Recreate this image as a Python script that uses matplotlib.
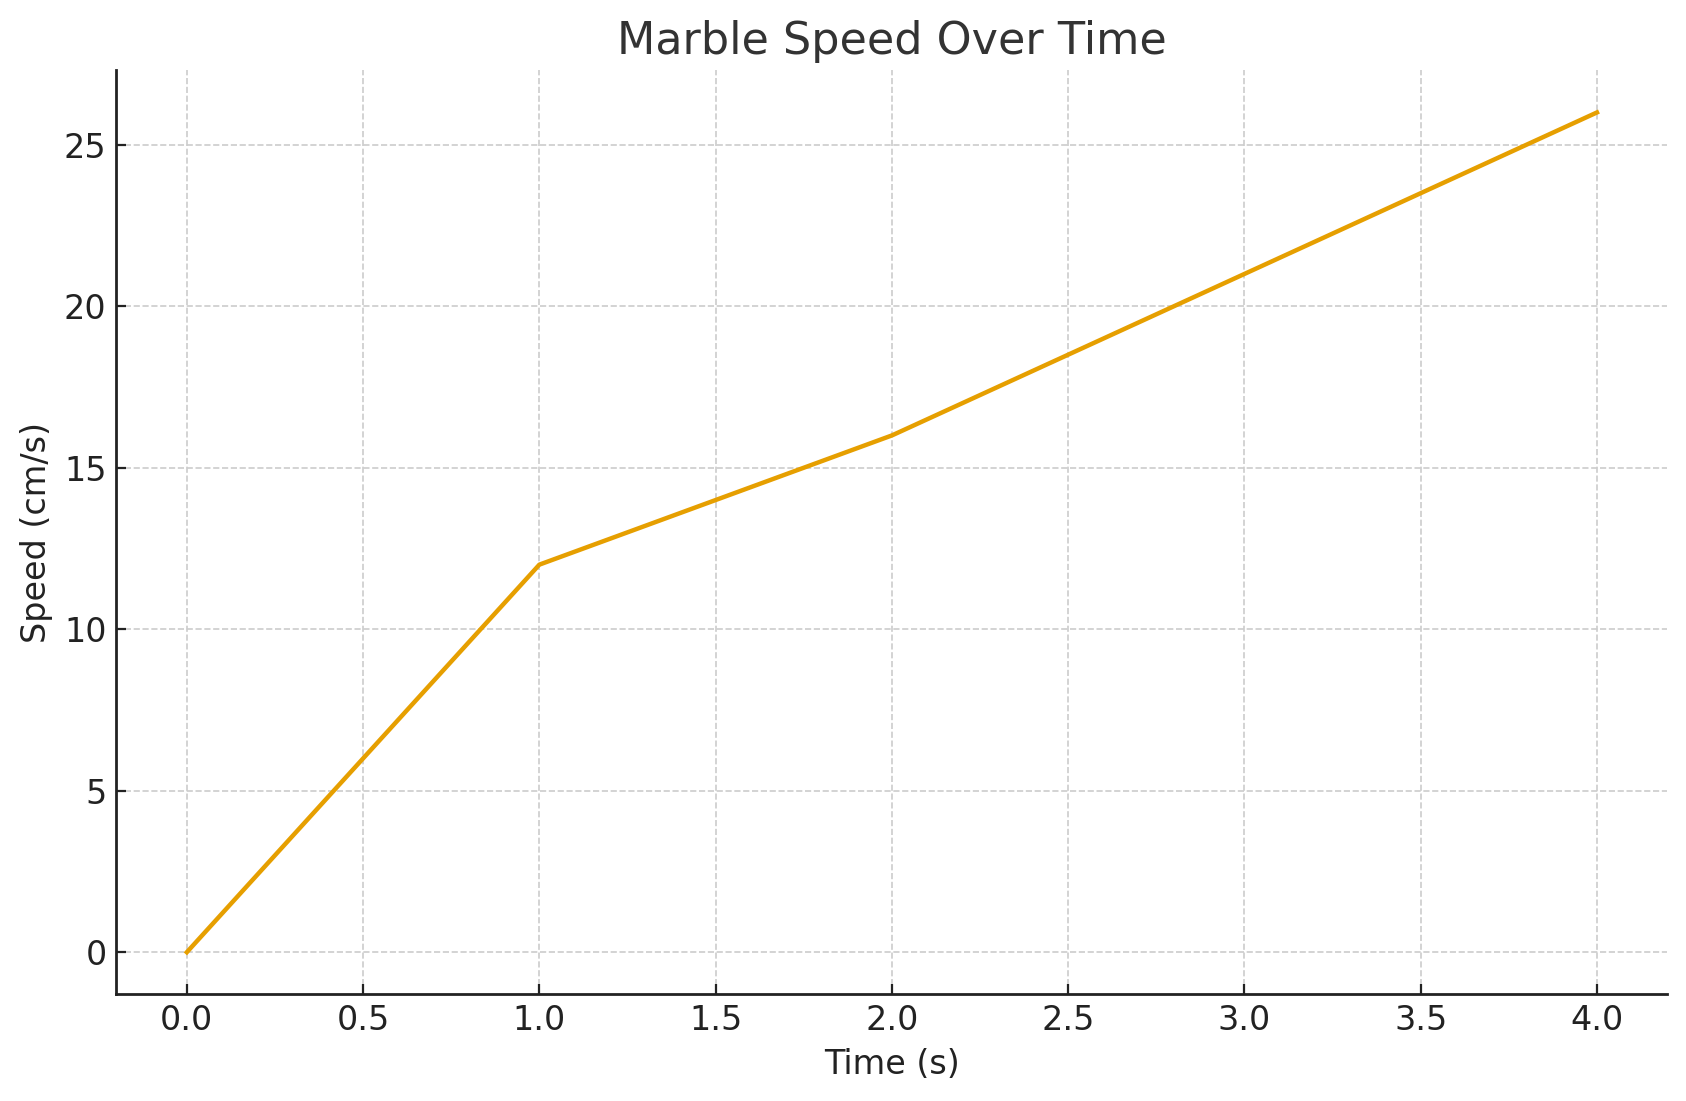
import matplotlib
matplotlib.use("Agg")
import matplotlib.pyplot as plt

# marble speed readings
time_s = [0, 1, 2, 3, 4]
speed_cms = [0, 12, 16, 21, 26]

fig = plt.figure(figsize=(8.43, 5.505), dpi=200)
ax = fig.add_axes([0.069, 0.097, 0.92, 0.839])

ax.plot(time_s, speed_cms, color='#E69F00', linewidth=1.6)

ax.grid(True, linestyle='--', color='#cccccc', linewidth=0.6)
ax.set_axisbelow(True)
for side in ['top', 'right']:
    ax.spines[side].set_visible(False)
for side in ['left', 'bottom']:
    ax.spines[side].set_color('#222222')
    ax.spines[side].set_linewidth(1.0)

ax.tick_params(direction='in', labelsize=12, colors='#222222')
ax.set_xlabel('Time (s)', fontsize=12, color='#222222')
ax.set_ylabel('Speed (cm/s)', fontsize=12, color='#222222')
ax.set_title('Marble Speed Over Time', fontsize=16, color='#333333')

fig.savefig('out.png', dpi=200)
